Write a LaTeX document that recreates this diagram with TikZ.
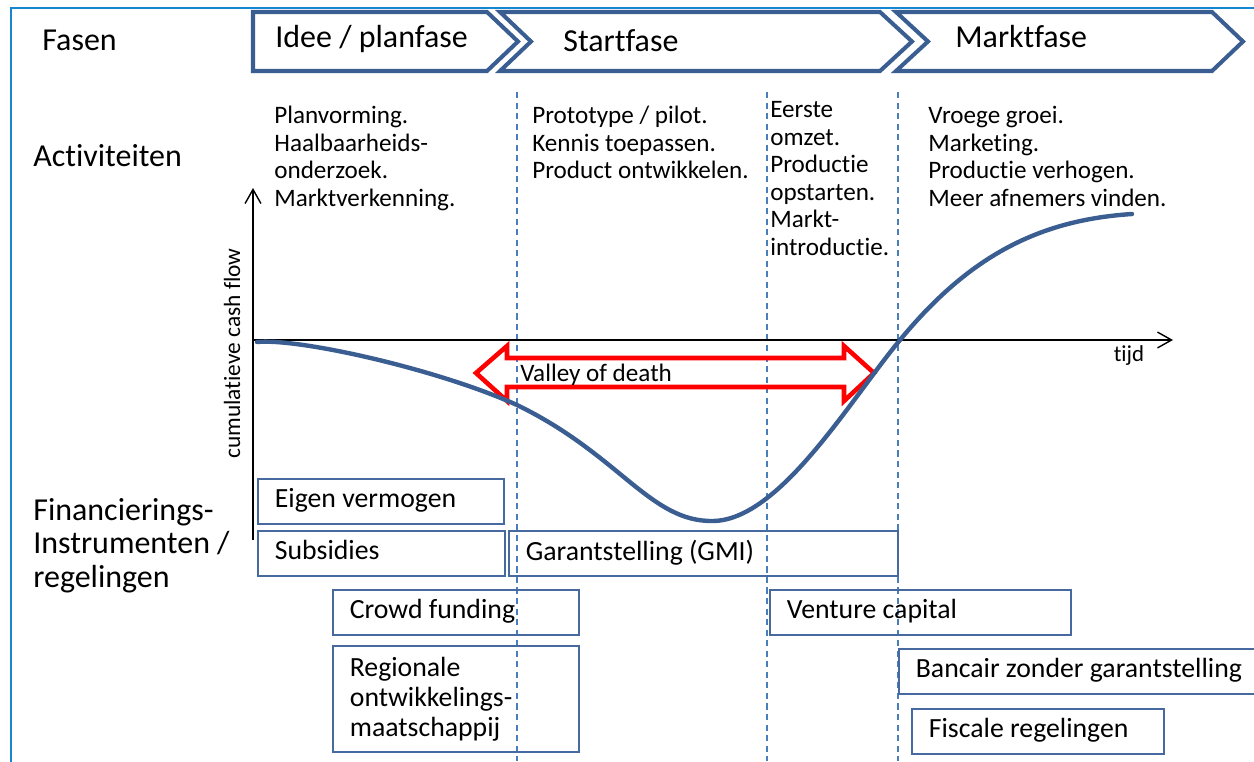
\documentclass[tikz,border=0pt]{standalone}
\usepackage{fontspec}
\setmainfont{Carlito}[Ligatures=NoCommon, Contextuals=NoAlternate]
\usetikzlibrary{arrows.meta, positioning}

\definecolor{framblue}{RGB}{22,134,210}
\definecolor{phaseblue}{RGB}{58,94,145}
\definecolor{boxblue}{RGB}{70,105,160}
\definecolor{dashblue}{RGB}{74,126,187}

\begin{document}
\begin{tikzpicture}[x=0.02cm, y=-0.02cm,
  phase/.style={draw=phaseblue, line width=2.3pt, line join=miter},
  bigtext/.style={font=\fontsize{18.2}{19}\selectfont, inner sep=0pt, align=left},
  acttext/.style={font=\fontsize{14.3}{15.7}\selectfont, inner sep=0pt, align=left, anchor=north west},
  finbox/.style={draw=boxblue, line width=1pt, font=\fontsize{15.8}{17}\selectfont,
    inner xsep=0.34cm, inner ysep=0pt, align=flush left, anchor=north west,
    minimum height=0.9cm, execute at begin node=\rule[-4pt]{0pt}{14pt}},
  divider/.style={dashblue, line width=0.8pt, dash pattern=on 3.5pt off 2.5pt},
  axis/.style={line width=0.8pt, -{Straight Barb[length=8pt, width=9pt]}},
  ]
  \useasboundingbox (0,0) rectangle (1254,761);

  % kader
  \draw[framblue, line width=1.6pt] (11,790) -- (11,8) -- (1290,8);

  % fasen als pijlen
  \draw[phase] (253,12) -- (487,12) -- (518,41.5) -- (487,71) -- (253,71) -- cycle;
  \draw[phase] (500,12) -- (880,12) -- (912,41.5) -- (880,71) -- (500,71) -- (531,41.5) -- cycle;
  \draw[phase] (896,12) -- (1212,12) -- (1243,41.5) -- (1212,71) -- (896,71) -- (928,41.5) -- cycle;
  \node[bigtext, anchor=base west] (idee)  at (275,47) {Idee / planfase};
  \node[bigtext, anchor=base west] (start) at (563,51) {Startfase};
  \node[bigtext, anchor=base west] (markt) at (955,47) {Marktfase};

  % rijkoppen
  \node[bigtext, anchor=base west] (fasen) at (42,50) {Fasen};
  \node[bigtext, anchor=base west] (activiteiten) at (33,166) {Activiteiten};
  \node[bigtext, anchor=north west] (instrumenten) at (33,498)
    {Financierings-\\Instrumenten /\\regelingen};

  % scheidingslijnen tussen de fasen
  \foreach \x in {517,767,898} {
    \draw[divider] (\x,92) -- (\x,761);
  }

  % activiteiten per fase
  \node[acttext] (act1) at (274,106) {Planvorming.\\Haalbaarheids-\\onderzoek.\\Marktverkenning.};
  \node[acttext] (act2) at (532,106) {Prototype / pilot.\\Kennis toepassen.\\Product ontwikkelen.};
  \node[acttext] (act3) at (770,101) {Eerste\\omzet.\\Productie\\opstarten.\\Markt-\\introductie.};
  \node[acttext] (act4) at (928,106) {Vroege groei.\\Marketing.\\Productie verhogen.\\Meer afnemers vinden.};

  % financieringsvormen
  \node[finbox, text width=4.24cm] (eigen) at (257,478) {Eigen vermogen};
  \node[finbox, text width=4.26cm] (subsidies) at (257,530) {Subsidies};
  \node[finbox, text width=7.10cm] (garantie) at (508,530) {Garantstelling (GMI)};
  \node[finbox, text width=4.24cm] (crowd) at (332,589) {Crowd funding};
  \node[finbox, text width=4.24cm, minimum height=2.12cm] (rom) at (332,645)
    {Regionale\\ontwikkelings-\\maatschappij};
  \node[finbox, text width=5.34cm] (venture) at (769,589) {Venture capital};
  \node[finbox, text width=6.60cm] (bancair) at (898,648) {Bancair zonder garantstelling};
  \node[finbox, text width=4.36cm] (fiscaal) at (911,708) {Fiscale regelingen};

  % assen
  \coordinate (O) at (253,340);
  \coordinate (ytop) at (253,188);
  \coordinate (ybot) at (253,540);
  \coordinate (xend) at (1173,340);
  \draw[axis] (ybot) -- (ytop);
  \draw[axis] (O) -- (xend);
  \node[font=\fontsize{13.3}{14}\selectfont, rotate=90, inner sep=0pt] (cashflow) at (232,353.5)
    {cumulatieve cash flow};
  \node[font=\fontsize{13}{14}\selectfont, inner sep=0pt] (tijd) at (1129,356) {tijd};

  % valley of death
  \draw[red, line width=2.6pt, line join=miter]
    (476,373) -- (507,346) -- (507,358) -- (844,358) -- (844,346) -- (874,373)
    -- (844,401) -- (844,387) -- (507,387) -- (507,401) -- cycle;
  \node[font=\fontsize{14.3}{15.7}\selectfont, inner sep=0pt, anchor=base west] (valley)
    at (520,381) {Valley of death};

  % cash flow curve
  \draw[phaseblue, line width=2.5pt, line cap=round]
    (257,342) .. controls (300,338) and (440,370) .. (517,405)
    .. controls (620,455) and (650,522) .. (713,521)
    .. controls (780,520) and (850,400) .. (900,340)
    .. controls (970,255) and (1040,220) .. (1132,214);
\end{tikzpicture}
\end{document}
